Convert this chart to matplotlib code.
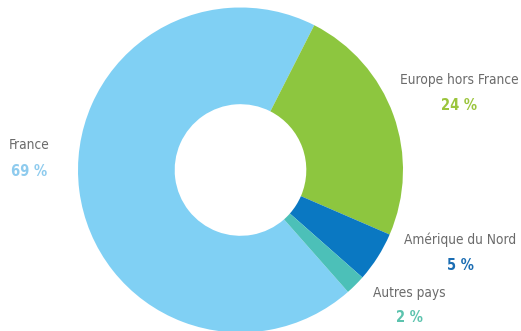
import matplotlib.pyplot as plt
from matplotlib import font_manager

regions = ["France", "Europe hors France", "Amérique du Nord", "Autres pays"]
shares = [69, 24, 5, 2]
wedge_colors = ["#80d0f4", "#8dc63f", "#0a78c2", "#4cc0b8"]
pct_colors = ["#8ecbee", "#9bc53d", "#1b6db3", "#5cc3ae"]

# pick a narrow font if there is one
names = {f.name for f in font_manager.fontManager.ttflist}
if "Liberation Sans Narrow" in names:
    font = dict(family="Liberation Sans Narrow")
else:
    font = dict(family="DejaVu Sans", stretch="condensed")

W, H = 521, 331
fig = plt.figure(figsize=(W / 100, H / 100), dpi=100)
# donut centre at (240.5, 170) px, radius 162.5 px
ax = fig.add_axes([78 / W, (H - 170 - 162.5) / H, 325 / W, 325 / H])
ax.pie(shares, colors=wedge_colors, startangle=-48.6, counterclock=False,
       radius=1, wedgeprops=dict(width=0.595, linewidth=0))
ax.set_xlim(-1, 1)
ax.set_ylim(-1, 1)
ax.set_aspect("equal")
ax.axis("off")

# label anchors in pixels (centre x, name y, percentage y)
anchors = [(29, 145, 171), (459, 80, 106), (460, 240, 265), (409, 293, 318)]
for name, val, col, (x, y1, y2) in zip(regions, shares, pct_colors, anchors):
    fig.text(x / W, 1 - y1 / H, name, ha="center", va="center",
             fontsize=9.8, color="#6b6b6b", **font)
    fig.text(x / W, 1 - y2 / H, f"{val} %", ha="center", va="center",
             fontsize=10.5, color=col, fontweight="bold", **font)

fig.savefig("out.png", dpi=100)
